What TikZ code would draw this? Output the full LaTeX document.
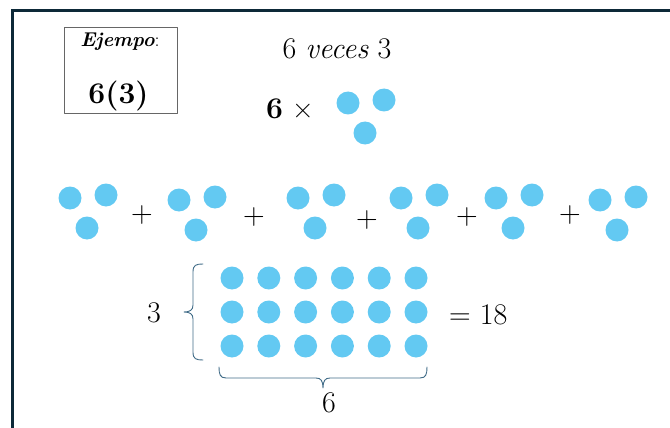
\documentclass[tikz,border=0pt]{standalone}
\definecolor{celeste}{rgb}{0.39,0.79,0.95}
\definecolor{marino}{rgb}{0.05,0.16,0.22}
\definecolor{pizarra}{rgb}{0.25,0.42,0.53}

\begin{document}
\begin{tikzpicture}[x=1pt,y=-1pt,line cap=round,line join=round,
  punto/.style={circle,fill=celeste,minimum size=23pt,inner sep=0pt},
  texto/.style={inner sep=0pt,font=\fontsize{30}{36}\selectfont},
  llave/.style={color=pizarra,line width=0.9pt}]
\useasboundingbox (0,0) rectangle (670,428);
% marco
\draw[marino,line width=3pt,line cap=butt,line join=miter] (12.5,428) -- (12.5,10.5) -- (670,10.5);
% ejemplo
\node[draw=gray!80!black,line width=0.8pt,minimum width=113pt,minimum height=86pt] (caja) at (120.5,70) {};
\node[inner sep=0pt,anchor=base,font=\fontsize{20}{24}\selectfont] (ejempo) at (120,47) {\textbf{\textit{Ejempo}}:};
\node[texto] (seis-tres) at (118.5,96) {\textbf{6(3)}};
\node[texto] (veces) at (337,48.5) {6 \textit{veces} 3};
\node[texto] (por) at (290,109) {\textbf{6} ×};
% grupo de tres
\node[punto] (t-a) at (348,103) {};
\node[punto] (t-b) at (384,100) {};
\node[punto] (t-c) at (365,133) {};
% suma de grupos
\foreach \gx/\gy [count=\g] in {70/198,179/200,298/198,401/198,496/198,600/200} {
  \node[punto] (g\g-a) at (\gx,\gy) {};
  \node[punto] (g\g-b) at (\gx+36,\gy-3) {};
  \node[punto] (g\g-c) at (\gx+17,\gy+30) {};
}
\foreach \px/\py [count=\i] in {142/215,254/217,367/220,467/217,570/215}
  \node[texto] (mas\i) at (\px,\py) {+};
% arreglo 3 x 6
\foreach \f in {1,2,3}
  \foreach \c in {1,...,6}
    \node[punto] (p\f-\c) at ({232+36.8*(\c-1)},{278+34*(\f-1)}) {};
% llaves
\draw[llave] (203,264) .. controls (196,264) and (193,265) .. (193,272) -- (193,305)
  .. controls (193,310) and (190,312) .. (184,312)
  .. controls (190,312) and (193,314) .. (193,319) -- (193,352)
  .. controls (193,359) and (196,360) .. (203,360);
\draw[llave] (219,367) .. controls (219,374) and (220,378) .. (226,378) -- (316,378)
  .. controls (321,378) and (323,381) .. (323,388)
  .. controls (323,381) and (325,378) .. (330,378) -- (420,378)
  .. controls (426,378) and (427,374) .. (427,367);
\node[texto] (filas) at (154,313) {3};
\node[texto] (columnas) at (329,403) {6};
\node[texto,anchor=west] (total) at (449,315) {= 18};
\end{tikzpicture}
\end{document}
